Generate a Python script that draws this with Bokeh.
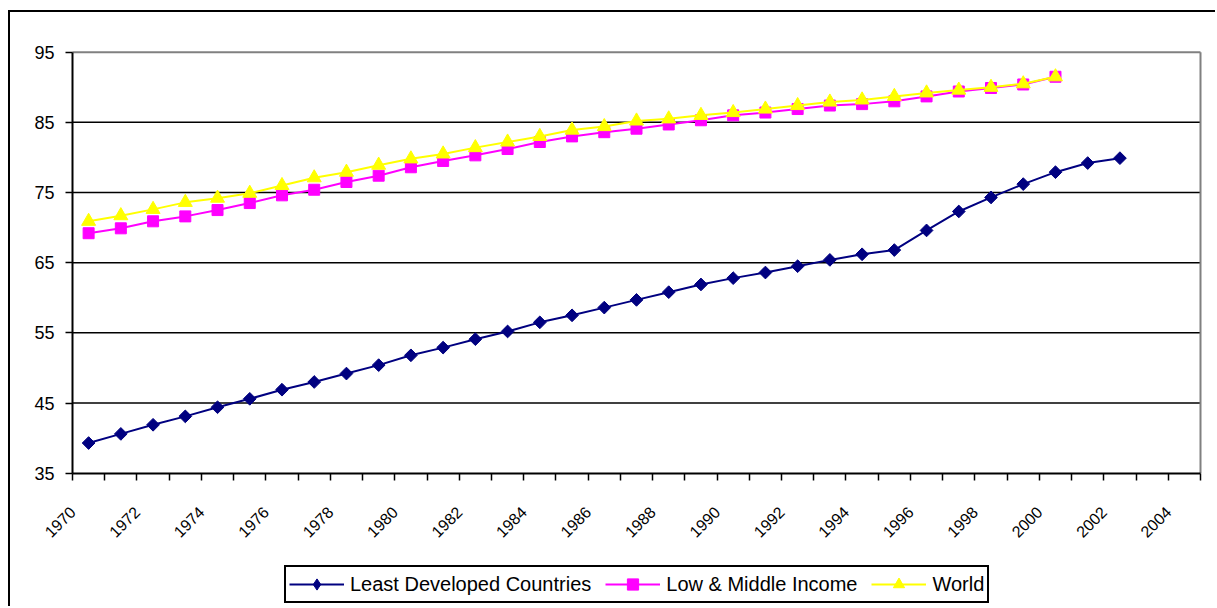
import math
from bokeh.plotting import figure
from bokeh.models import FixedTicker, Legend, LegendItem, Range1d, ColumnDataSource
from bokeh.embed import file_html
from bokeh.resources import INLINE

# ---- data ----
years_ldc = list(range(1970, 2003))
ldc = [39.3, 40.6, 41.9, 43.1, 44.4, 45.6, 46.9, 48.0, 49.2, 50.4,
       51.8, 52.9, 54.1, 55.2, 56.5, 57.5, 58.6, 59.7, 60.8, 61.9,
       62.8, 63.6, 64.5, 65.4, 66.2, 66.8, 69.6, 72.3, 74.3, 76.2,
       77.9, 79.2, 79.9]

years_other = list(range(1970, 2001))
lmi = [69.2, 69.9, 70.9, 71.6, 72.5, 73.5, 74.6, 75.4, 76.5, 77.4,
       78.6, 79.5, 80.3, 81.2, 82.2, 83.0, 83.6, 84.1, 84.7, 85.3,
       86.0, 86.4, 86.9, 87.4, 87.6, 88.0, 88.7, 89.4, 89.9, 90.4, 91.5]
world = [70.9, 71.7, 72.6, 73.6, 74.2, 74.9, 76.0, 77.1, 77.9, 78.9,
         79.8, 80.5, 81.4, 82.2, 83.0, 83.9, 84.4, 85.2, 85.5, 86.0,
         86.4, 86.9, 87.4, 87.9, 88.2, 88.7, 89.2, 89.6, 90.0, 90.5, 91.5]

first_year, last_year = 1970, 2004
label_years = list(range(first_year, last_year + 1, 2))
y_ticks = [35, 45, 55, 65, 75, 85, 95]

series_names = ["Least Developed Countries", "Low & Middle Income", "World"]
colors = ["#000080", "#FF00FF", "#FFFF00"]

FONT = "Liberation Sans"

# ---- layout geometry (pixels inside the figure) ----
W, H = 1207, 596
PLOT_L, PLOT_R = 62, 1190          # x of first / last category edge
PLOT_T, PLOT_B = 39.7, 460.7       # y of top / bottom value
FRAME_T = 8                        # frame larger than the plot area so nothing is clipped
FRAME_R = 1193
x0, x1 = first_year, last_year + 1
y0, y1 = y_ticks[0], y_ticks[-1]
px_x = (PLOT_R - PLOT_L) / (x1 - x0)
px_y = (PLOT_B - PLOT_T) / (y1 - y0)
x_range = Range1d(x0 - PLOT_L / px_x, x1 + (FRAME_R - PLOT_R) / px_x)
y_range = Range1d(y0 - (H - PLOT_B) / px_y, y1 + (PLOT_T - FRAME_T) / px_y)

# category centres: each year occupies [year, year+1)
src_ldc = ColumnDataSource(dict(x=[y + 0.5 for y in years_ldc], y=ldc))
src_lmi = ColumnDataSource(dict(x=[y + 0.5 for y in years_other], y=lmi))
src_wld = ColumnDataSource(dict(x=[y + 0.5 for y in years_other], y=world))

p = figure(width=W, height=H, x_range=x_range, y_range=y_range,
           output_backend="svg", toolbar_location=None,
           min_border_left=0, min_border_right=W - FRAME_R,
           min_border_top=FRAME_T, min_border_bottom=0)
p.styles = {"margin-left": "8px", "margin-top": "10px",
            "border-left": "2px solid black", "border-top": "2px solid black"}

p.background_fill_color = "white"
p.border_fill_color = "white"
p.outline_line_color = None
p.grid.grid_line_color = None

# horizontal grid lines (at the inner y ticks) and grey plot-area border
inner = y_ticks[1:-1]
p.segment(x0=[x0] * len(inner), y0=inner, x1=[x1] * len(inner), y1=inner,
          line_color="black", line_width=1.5)
p.segment(x0=[x0, x1], y0=[y1, y0], x1=[x1, x1], y1=[y1, y1],
          line_color="#808080", line_width=2)

# y axis (drawn at x = 1970)
p.yaxis.fixed_location = x0
p.yaxis.ticker = FixedTicker(ticks=y_ticks)
p.yaxis.bounds = (y0, y1)
p.yaxis.axis_line_color = "black"
p.yaxis.axis_line_width = 2
p.yaxis.major_tick_out = 7
p.yaxis.major_tick_in = 0
p.yaxis.major_tick_line_width = 1.5
p.yaxis.minor_tick_line_color = None
p.yaxis.major_label_text_font = FONT
p.yaxis.major_label_text_font_size = "18px"
p.yaxis.major_label_text_color = "black"
p.yaxis.major_label_standoff = 11

# x axis (drawn at y = 35): a tick at every category edge, a label every 2 years
all_edges = list(range(x0, x1 + 1))
p.xaxis.fixed_location = y0
p.xaxis.bounds = (x0, x1)
p.xaxis.ticker = FixedTicker(ticks=all_edges)
p.xaxis.major_label_overrides = {yr: ("" if yr not in label_years else str(yr))
                                 for yr in all_edges}
p.xaxis.axis_line_color = "black"
p.xaxis.axis_line_width = 2
p.xaxis.major_tick_out = 7
p.xaxis.major_tick_in = 0
p.xaxis.major_tick_line_color = "black"
p.xaxis.major_tick_line_width = 1.5
p.xaxis.minor_tick_line_color = None
p.xaxis.major_label_orientation = math.pi / 4
p.xaxis.major_label_text_font = FONT
p.xaxis.major_label_text_font_size = "16px"
p.xaxis.major_label_text_color = "black"
p.xaxis.major_label_standoff = 29

# series
l1 = p.line("x", "y", source=src_ldc, line_color=colors[0], line_width=2)
m1 = p.scatter("x", "y", source=src_ldc, marker="square", angle=math.pi / 4,
               size=9, fill_color=colors[0], line_color=colors[0])
l2 = p.line("x", "y", source=src_lmi, line_color=colors[1], line_width=2)
m2 = p.scatter("x", "y", source=src_lmi, marker="square", size=11,
               fill_color=colors[1], line_color=colors[1])
l3 = p.line("x", "y", source=src_wld, line_color=colors[2], line_width=2)
m3 = p.scatter("x", "y", source=src_wld, marker="triangle", size=14,
               fill_color=colors[2], line_color=colors[2])
# legend key: the legend does not rotate markers, so use a diamond there
m1_key = p.scatter("x", "y", source=src_ldc, marker="diamond",
                   fill_color=colors[0], line_color=colors[0], visible=False)

legend = Legend(items=[
    LegendItem(label=series_names[0], renderers=[l1, m1_key]),
    LegendItem(label=series_names[1], renderers=[l2, m2]),
    LegendItem(label=series_names[2], renderers=[l3, m3]),
], orientation="horizontal", location=(274, 5))
legend.margin = 0
legend.padding = 3
legend.spacing = 14
legend.glyph_width = 55
legend.glyph_height = 28
legend.label_height = 28
legend.label_standoff = 6
legend.label_text_font = FONT
legend.label_text_font_size = "20px"
legend.label_text_color = "black"
legend.border_line_color = "black"
legend.border_line_alpha = 1
legend.border_line_width = 2
legend.background_fill_color = "white"
legend.background_fill_alpha = 1
p.add_layout(legend, "center")

open("out.html", "w").write(file_html(p, INLINE))
